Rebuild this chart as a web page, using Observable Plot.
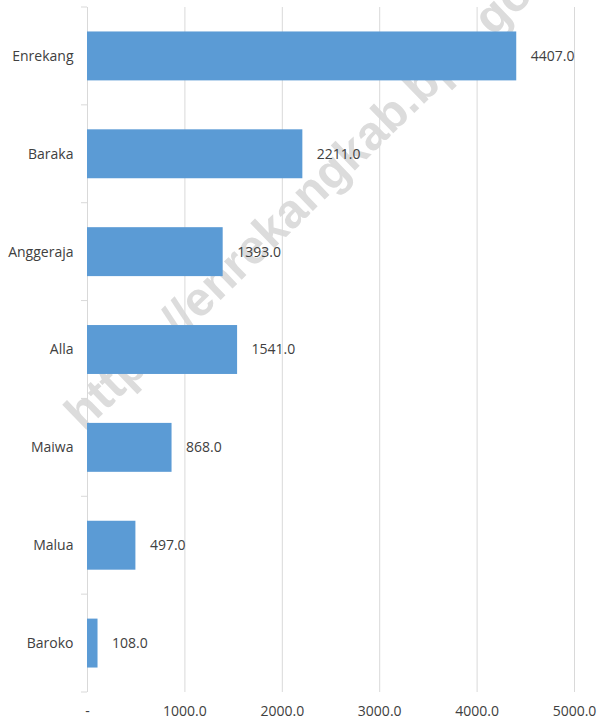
<!DOCTYPE html>
<html>
<head>
<meta charset="utf-8">
<script src="https://cdn.jsdelivr.net/npm/d3@7"></script>
<script src="https://cdn.jsdelivr.net/npm/@observablehq/plot@0.6"></script>
<style>
  html, body { margin: 0; padding: 0; background: #fff; }
  #chart svg { display: block; }
</style>
</head>
<body>
<div id="chart"></div>
<script>
const categories = ["Enrekang", "Baraka", "Anggeraja", "Alla", "Maiwa", "Malua", "Baroko"];
const values = [4407, 2211, 1393, 1541, 868, 497, 108];
const xTicks = [0, 1000, 2000, 3000, 4000, 5000];
const xTickLabels = ["-", "1000.0", "2000.0", "3000.0", "4000.0", "5000.0"];
const watermarkText = "https://enrekangkab.bps.go.id";

const data = categories.map((c, i) => ({category: c, value: values[i]}));
const font = "'Open Sans', 'Liberation Sans', Arial, sans-serif";
const textColor = "#404040";
const gridColor = "#d9d9d9";

const plot = Plot.plot({
  width: 600,
  height: 721,
  marginLeft: 87,
  marginRight: 26,
  marginTop: 7,
  marginBottom: 29,
  style: {fontFamily: font, fontSize: "14px", color: textColor, background: "#fff"},
  x: {domain: [0, 5000], label: null},
  y: {domain: categories, paddingInner: 0.5, paddingOuter: 0.25, round: false, label: null},
  marks: [
    Plot.ruleX(xTicks.slice(1), {stroke: gridColor, strokeWidth: 1}),
    Plot.ruleX([0], {stroke: gridColor, strokeWidth: 1}),
    Plot.barX(data, {y: "category", x: "value", fill: "#5b9bd5"}),
    Plot.text(data, {y: "category", x: "value", text: d => d.value.toFixed(1), textAnchor: "start", dx: 14, fill: textColor, fontSize: 14}),
    Plot.axisY({tickSize: 0, tickPadding: 14, fontSize: 14, fill: textColor, label: null}),
    Plot.axisX({ticks: xTicks, tickFormat: (d) => xTickLabels[xTicks.indexOf(d)], tickSize: 0, tickPadding: 14, fontSize: 14, fill: textColor, label: null})
  ]
});

const svg = d3.select(plot);
const ys = plot.scale("y");
const step = ys.step, bw = ys.bandwidth;
const x0 = plot.scale("x").apply(0);
const bounds = categories.map(c => ys.apply(c) - (step - bw) / 2);
bounds.push(bounds[bounds.length - 1] + step);
const tg = svg.append("g").attr("stroke", gridColor).attr("stroke-width", 1);
bounds.forEach(b => {
  tg.append("line").attr("x1", x0 - 6).attr("x2", x0).attr("y1", b).attr("y2", b);
});

// watermark behind all marks
svg.insert("text", ":first-child")
  .attr("transform", "translate(84,432) rotate(-44)")
  .attr("text-anchor", "start")
  .attr("font-family", "'Liberation Sans', Arial, sans-serif")
  .attr("font-weight", "bold")
  .attr("font-size", 48)
  .attr("fill", "#dcdcdc")
  .text(watermarkText);

document.getElementById("chart").appendChild(plot);
</script>
</body>
</html>
